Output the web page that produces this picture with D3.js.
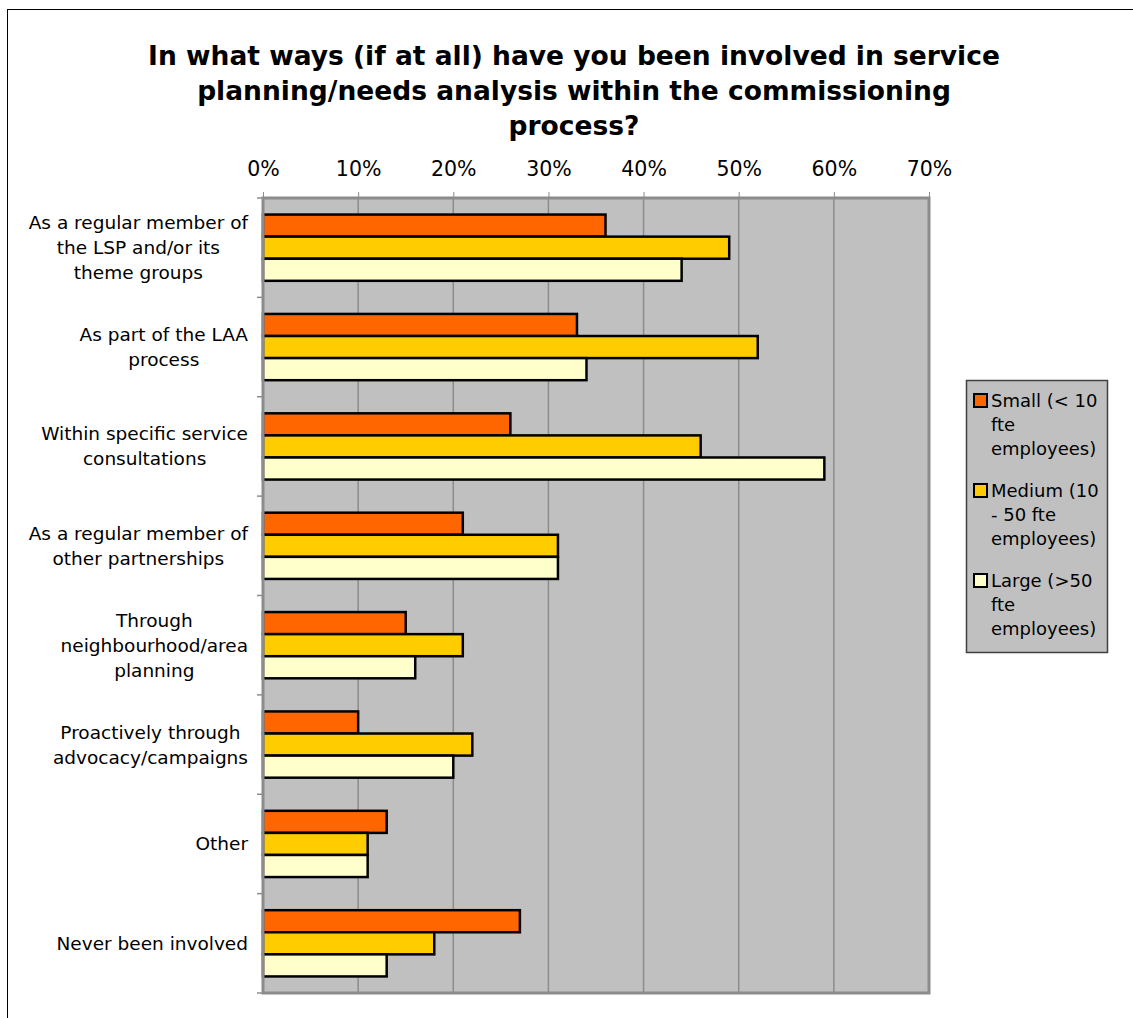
<!DOCTYPE html>
<html>
<head>
<meta charset="utf-8">
<script src="https://cdn.jsdelivr.net/npm/d3@7"></script>
<style>
  html, body { margin: 0; padding: 0; background: #fff; }
  svg { display: block; }
  text { font-family: "DejaVu Sans", Verdana, sans-serif; fill: #000; }
</style>
</head>
<body>
<svg id="chart" width="1133" height="1018"></svg>
<script>
// Survey responses by organisation size (share of respondents)
const categories = [
  ["As a regular member of", "the LSP and/or its", "theme groups"],
  ["As part of the LAA", "process"],
  ["Within specific service", "consultations"],
  ["As a regular member of", "other partnerships"],
  ["Through", "neighbourhood/area", "planning"],
  ["Proactively through", "advocacy/campaigns"],
  ["Other"],
  ["Never been involved"]
];
const seriesNames = [
  ["Small (< 10", "fte", "employees)"],
  ["Medium (10", "- 50 fte", "employees)"],
  ["Large (>50", "fte", "employees)"]
];
const small  = [36, 33, 26, 21, 15, 10, 13, 27];
const medium = [49, 52, 46, 31, 21, 22, 11, 18];
const large  = [44, 34, 59, 31, 16, 20, 11, 13];
const tickValues = [0, 10, 20, 30, 40, 50, 60, 70];
const colors = ["#ff6600", "#ffcc00", "#ffffcc"];
const titleLines = [
  "In what ways (if at all) have you been involved in service",
  "planning/needs analysis within the commissioning",
  "process?"
];

const series = [small, medium, large];
const svg = d3.select("#chart");

// outer chart frame
svg.append("rect")
  .attr("x", 7.5).attr("y", 9.5).attr("width", 1140).attr("height", 1020)
  .attr("fill", "#fff").attr("stroke", "#000").attr("stroke-width", 1);

const plot = { left: 263, right: 929, top: 198, bottom: 993 };

const x = d3.scaleLinear().domain([0, 70]).range([plot.left, plot.right]);
const y0 = d3.scaleBand().domain(d3.range(categories.length))
  .range([plot.top, plot.bottom]);
const y1 = d3.scaleBand().domain(d3.range(series.length))
  .range([0, y0.bandwidth()]).paddingOuter(0.75).paddingInner(0);

// title
svg.append("g").selectAll("text").data(titleLines).join("text")
  .attr("x", 574).attr("y", (d, i) => 65 + i * 35)
  .attr("text-anchor", "middle")
  .style("font-weight", "bold").style("font-size", "26.5px")
  .text(d => d);

// plot background
svg.append("rect")
  .attr("x", plot.left).attr("y", plot.top)
  .attr("width", plot.right - plot.left).attr("height", plot.bottom - plot.top)
  .attr("fill", "#c0c0c0");

// vertical gridlines
svg.append("g").selectAll("line").data(tickValues.slice(1, -1)).join("line")
  .attr("x1", d => x(d)).attr("x2", d => x(d))
  .attr("y1", plot.top).attr("y2", plot.bottom)
  .attr("stroke", "#8c8c8c").attr("stroke-width", 1.5);

// top value axis
const xAxis = svg.append("g")
  .attr("transform", `translate(0,${plot.top})`)
  .call(d3.axisTop(x).tickValues(tickValues).tickFormat(d => d + "%")
    .tickSize(6).tickPadding(16));
xAxis.select(".domain").remove();
xAxis.selectAll(".tick line").attr("stroke", "#8c8c8c");
xAxis.selectAll("text").style("font-size", "20.5px")
  .style("font-family", "'DejaVu Sans', Verdana, sans-serif").attr("fill", "#000");

// bars
const groups = svg.append("g").selectAll("g").data(categories).join("g")
  .attr("transform", (d, i) => `translate(0,${y0(i)})`);
groups.selectAll("rect").data((d, i) => series.map((s, k) => ({ k, v: s[i] }))).join("rect")
  .attr("x", x(0))
  .attr("y", d => y1(d.k))
  .attr("width", d => x(d.v) - x(0))
  .attr("height", y1.bandwidth())
  .attr("fill", d => colors[d.k])
  .attr("stroke", "#000").attr("stroke-width", 2.5);

// plot frame
svg.append("path")
  .attr("d", `M${plot.left},${plot.top}H${plot.right}V${plot.bottom}H${plot.left}Z`)
  .attr("fill", "none").attr("stroke", "#8c8c8c").attr("stroke-width", 3);

// category axis ticks and labels (each label block right-aligned, lines centred)
const yAxis = svg.append("g");
yAxis.selectAll("line").data(d3.range(categories.length + 1)).join("line")
  .attr("x1", plot.left - 6).attr("x2", plot.left)
  .attr("y1", i => plot.top + i * y0.step()).attr("y2", i => plot.top + i * y0.step())
  .attr("stroke", "#8c8c8c").attr("stroke-width", 1.5);
const labelRight = 248;
yAxis.selectAll("text").data(categories).join("text")
  .attr("text-anchor", "middle")
  .style("font-size", "18.5px")
  .each(function (lines, i) {
    const cy = y0(i) + y0.bandwidth() / 2;
    const lh = 25;
    const spans = d3.select(this).selectAll("tspan").data(lines).join("tspan")
      .attr("y", (l, j) => cy + (j - (lines.length - 1) / 2) * lh + 6.5)
      .text(l => l);
    let maxW = 0;
    spans.each(function () { maxW = Math.max(maxW, this.getComputedTextLength()); });
    spans.attr("x", labelRight - maxW / 2);
  });

// legend
const lg = svg.append("g");
lg.append("rect").attr("x", 966.5).attr("y", 380.5).attr("width", 141).attr("height", 272)
  .attr("fill", "#c0c0c0").attr("stroke", "#404040").attr("stroke-width", 1.5);
seriesNames.forEach((lines, k) => {
  const top = 401 + k * 90;
  lg.append("rect").attr("x", 974).attr("y", top - 7).attr("width", 13).attr("height", 13)
    .attr("fill", colors[k]).attr("stroke", "#000").attr("stroke-width", 2);
  lg.append("text").style("font-size", "18px")
    .selectAll("tspan").data(lines).join("tspan")
    .attr("x", 991).attr("y", (l, j) => top + 6 + j * 24)
    .text(l => l);
});
</script>
</body>
</html>
